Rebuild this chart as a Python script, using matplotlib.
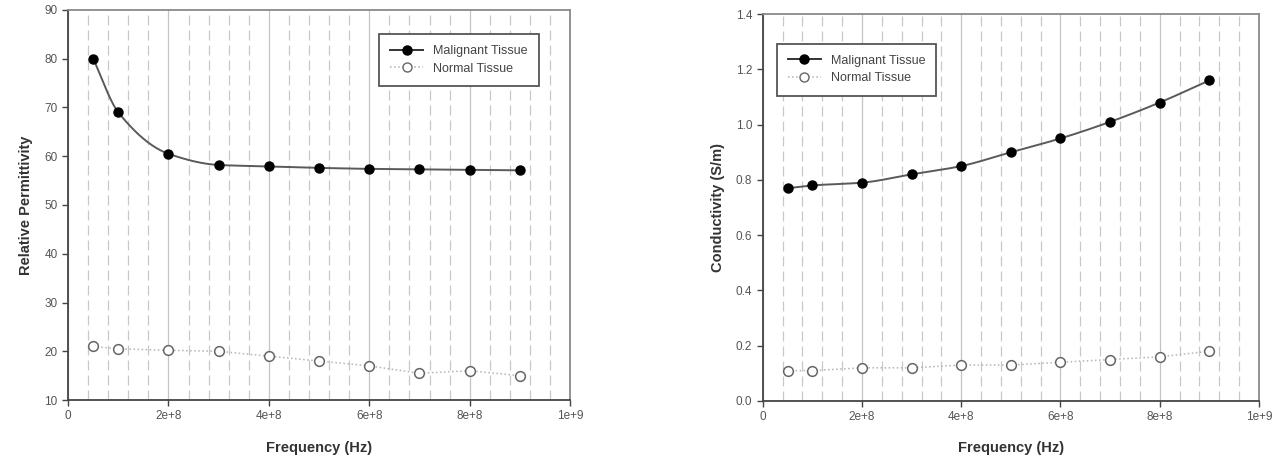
import numpy as np
import matplotlib
matplotlib.use("Agg")
import matplotlib.pyplot as plt
from matplotlib.ticker import MultipleLocator, FuncFormatter

plt.rcParams['font.family'] = ['Liberation Sans', 'DejaVu Sans']

# frequency points (Hz)
freq = np.array([0.5e8, 1e8, 2e8, 3e8, 4e8, 5e8, 6e8, 7e8, 8e8, 9e8])

# relative permittivity
perm_malignant = np.array([80, 69, 60.5, 58.2, 57.9, 57.6, 57.4, 57.3, 57.2, 57.1])
perm_normal = np.array([21, 20.5, 20.2, 20, 19, 18, 17, 15.5, 16, 15])

# conductivity (S/m)
cond_malignant = np.array([0.77, 0.78, 0.79, 0.82, 0.85, 0.90, 0.95, 1.01, 1.08, 1.16])
cond_normal = np.array([0.11, 0.11, 0.12, 0.12, 0.13, 0.13, 0.14, 0.15, 0.16, 0.18])


def pchip(x, y, xs):
    # monotone cubic curve through the points, only for drawing the smooth line
    h = np.diff(x)
    d = np.diff(y) / h
    m = np.zeros_like(y, dtype=float)
    for k in range(1, len(x) - 1):
        if d[k-1] * d[k] > 0:
            w1 = 2*h[k] + h[k-1]
            w2 = h[k] + 2*h[k-1]
            m[k] = (w1 + w2) / (w1/d[k-1] + w2/d[k])
    m[0] = d[0]
    m[-1] = d[-1]
    idx = np.clip(np.searchsorted(x, xs) - 1, 0, len(x) - 2)
    t = (xs - x[idx]) / h[idx]
    h00 = 2*t**3 - 3*t**2 + 1
    h10 = t**3 - 2*t**2 + t
    h01 = -2*t**3 + 3*t**2
    h11 = t**3 - t**2
    return h00*y[idx] + h10*h[idx]*m[idx] + h01*y[idx+1] + h11*h[idx]*m[idx+1]


def fmt_freq(v, pos):
    if v == 0:
        return "0"
    e = int(np.floor(np.log10(abs(v)) + 1e-9))
    return "%ge+%d" % (round(v / 10**e, 6), e)


def draw(ax, mal, nor, ylim, ystep, ylabel, ydec, leg_loc, leg_anchor):
    ax.set_xlim(0, 1e9)
    ax.set_ylim(*ylim)
    ax.xaxis.set_major_locator(MultipleLocator(2e8))
    ax.xaxis.set_minor_locator(MultipleLocator(4e7))
    ax.yaxis.set_major_locator(MultipleLocator(ystep))
    ax.xaxis.set_major_formatter(FuncFormatter(fmt_freq))
    if ydec:
        ax.yaxis.set_major_formatter(FuncFormatter(lambda v, p: "%.1f" % v))
    ax.grid(which='major', axis='x', color='#c4c4c4', lw=0.9, ls='-')
    ax.grid(which='minor', axis='x', color='#c8c8c8', lw=0.9, ls=(0, (8, 4)))
    ax.tick_params(which='major', direction='out', length=4, width=1, color='#444444',
                   labelsize=8.5, labelcolor='#555555')
    ax.tick_params(which='minor', length=0)
    for s in ['left', 'bottom']:
        ax.spines[s].set_color('#444444')
        ax.spines[s].set_linewidth(1.3)
    for s in ['top', 'right']:
        ax.spines[s].set_color('#8a8a8a')
        ax.spines[s].set_linewidth(1.3)

    xs = np.linspace(freq[0], freq[-1], 300)
    ax.plot(xs, pchip(freq, mal, xs), color='#5a5a5a', lw=1.4, zorder=3)
    ax.plot(freq, mal, 'o', color='black', ms=6.5, zorder=4)
    ax.plot(freq, nor, ':', color='#b4b4b4', lw=1.1, zorder=3)
    ax.plot(freq, nor, 'o', mfc='white', mec='#666666', mew=1.1, ms=7, zorder=4)

    h1, = ax.plot([], [], '-o', color='#333333', mfc='black', mec='black', ms=6.5, lw=1.4)
    h2, = ax.plot([], [], ':o', color='#b0b0b0', mfc='white', mec='#666666', ms=6.5, lw=1.1)
    leg = ax.legend([h1, h2], ['Malignant Tissue', 'Normal Tissue'], loc=leg_loc,
                    bbox_to_anchor=leg_anchor, fontsize=9, fancybox=False, framealpha=1,
                    edgecolor='#555555', borderpad=0.9, handlelength=2.6, labelspacing=0.45)
    leg.get_frame().set_linewidth(1.3)
    for t in leg.get_texts():
        t.set_color('#444444')

    ax.set_xlabel('Frequency (Hz)', fontsize=10.5, fontweight='bold', color='#333333', labelpad=13)
    ax.set_ylabel(ylabel, fontsize=10.5, fontweight='bold', color='#333333', labelpad=8)


fig = plt.figure(figsize=(12.84, 4.69), dpi=100)
ax1 = fig.add_axes([0.053, 0.147, 0.391, 0.832])
ax2 = fig.add_axes([0.594, 0.145, 0.3865, 0.825])

draw(ax1, perm_malignant, perm_normal, (10, 90), 10, 'Relative Permittivity', False,
     'upper right', (0.95, 0.955))
draw(ax2, cond_malignant, cond_normal, (0, 1.4), 0.2, 'Conductivity (S/m)', True,
     'upper left', (0.016, 0.94))

fig.savefig('out.png', dpi=100)
